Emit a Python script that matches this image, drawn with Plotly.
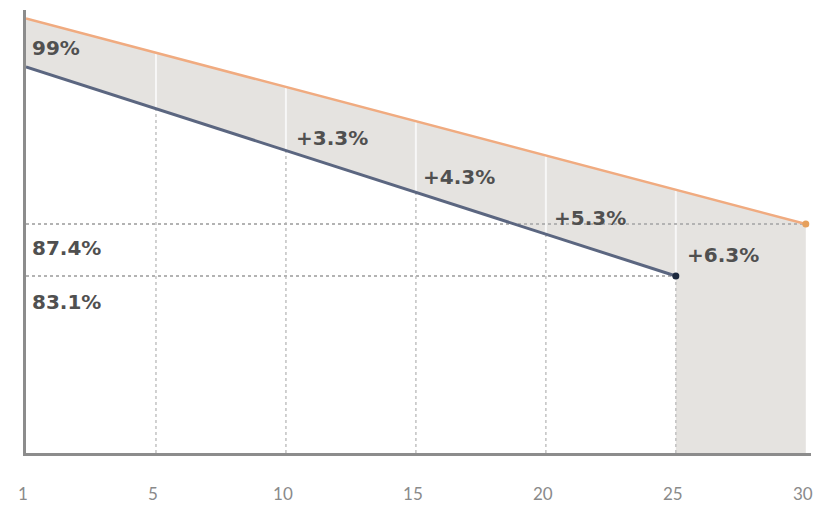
import numpy as np
import plotly.graph_objects as go

# ---- data ----
years = ["1", "5", "10", "15", "20", "25", "30"]
orange_x = ["1", "30"]
orange_y = [104.4, 87.4]
blue_x = ["1", "25"]
blue_y = [100.4, 83.1]
ref_levels = [87.4, 83.1]
ref_ends = ["30", "25"]
y_floor = 68.46
y_top = 105.1

labels_text = ["99%", "87.4%", "83.1%", "+3.3%", "+4.3%", "+5.3%", "+6.3%"]
labels_x = [0.03, 0.03, 0.03, 2.06, 3.04, 4.05, 5.07]
labels_y = [101.96, 85.41, 80.95, 94.51, 91.29, 87.9, 84.84]

pos = {c: i for i, c in enumerate(years)}

def orange_at(i):
    return float(np.interp(i, [pos[orange_x[0]], pos[orange_x[1]]], orange_y))

def blue_at(i):
    return float(np.interp(i, [pos[blue_x[0]], pos[blue_x[1]]], blue_y))

fig = go.Figure()

# gray band + tail area
fill_x = [orange_x[0], orange_x[1], orange_x[1], blue_x[1], blue_x[1], blue_x[0]]
fill_y = [orange_y[0], orange_y[1], y_floor, y_floor, blue_y[1], blue_y[0]]
fig.add_trace(go.Scatter(x=fill_x, y=fill_y, fill="toself", fillcolor="#e5e3e0",
                         mode="none", hoverinfo="skip", showlegend=False))

# vertical grid segments
for c in years[1:6]:
    i = pos[c]
    fig.add_trace(go.Scatter(x=[c, c], y=[y_floor, blue_at(i)], mode="lines",
                             line=dict(color="#c2c2c2", width=1.5, dash="dot"),
                             hoverinfo="skip", showlegend=False))
    fig.add_trace(go.Scatter(x=[c, c], y=[blue_at(i), orange_at(i)], mode="lines",
                             line=dict(color="#f7f7f7", width=2),
                             hoverinfo="skip", showlegend=False))

# horizontal reference lines
for lv, end in zip(ref_levels, ref_ends):
    fig.add_trace(go.Scatter(x=[years[0], end], y=[lv, lv], mode="lines",
                             line=dict(color="#b3b3b3", width=2, dash="dot"),
                             hoverinfo="skip", showlegend=False))

# main lines
fig.add_trace(go.Scatter(x=orange_x, y=orange_y, mode="lines",
                         line=dict(color="#f0ab80", width=2.5),
                         hoverinfo="skip", showlegend=False))
fig.add_trace(go.Scatter(x=blue_x, y=blue_y, mode="lines",
                         line=dict(color="#5b6680", width=3),
                         hoverinfo="skip", showlegend=False))
fig.add_trace(go.Scatter(x=[orange_x[1]], y=[orange_y[1]], mode="markers",
                         marker=dict(color="#e6a05c", size=7), cliponaxis=False,
                         hoverinfo="skip", showlegend=False))
fig.add_trace(go.Scatter(x=[blue_x[1]], y=[blue_y[1]], mode="markers",
                         marker=dict(color="#1d2a3f", size=7), cliponaxis=False,
                         hoverinfo="skip", showlegend=False))

for t, x, y in zip(labels_text, labels_x, labels_y):
    fig.add_annotation(x=x, y=y, text=t, showarrow=False, xanchor="left", yanchor="middle",
                       font=dict(family="DejaVu Sans", size=20, color="#505050", weight="bold"))

fig.update_xaxes(type="category", categoryorder="array", categoryarray=years,
                 range=[0, 6.04], showgrid=False, zeroline=False, automargin=False,
                 showline=True, linecolor="#8c8c8c", linewidth=3,
                 tickmode="array", tickvals=years, ticktext=years,
                 ticks="", ticklabelstandoff=24, ticklabelshift=-3,
                 tickfont=dict(family="Lato", size=17, color="#8a8a8a"))
fig.update_yaxes(range=[y_floor, y_top], showgrid=False, zeroline=False, automargin=False,
                 showline=True, linecolor="#8c8c8c", linewidth=3,
                 showticklabels=False, ticks="")

fig.update_layout(width=806, height=497, margin=dict(l=18, r=3, t=2, b=52),
                  plot_bgcolor="#ffffff", paper_bgcolor="#ffffff", showlegend=False)

fig.write_html("out.html")
